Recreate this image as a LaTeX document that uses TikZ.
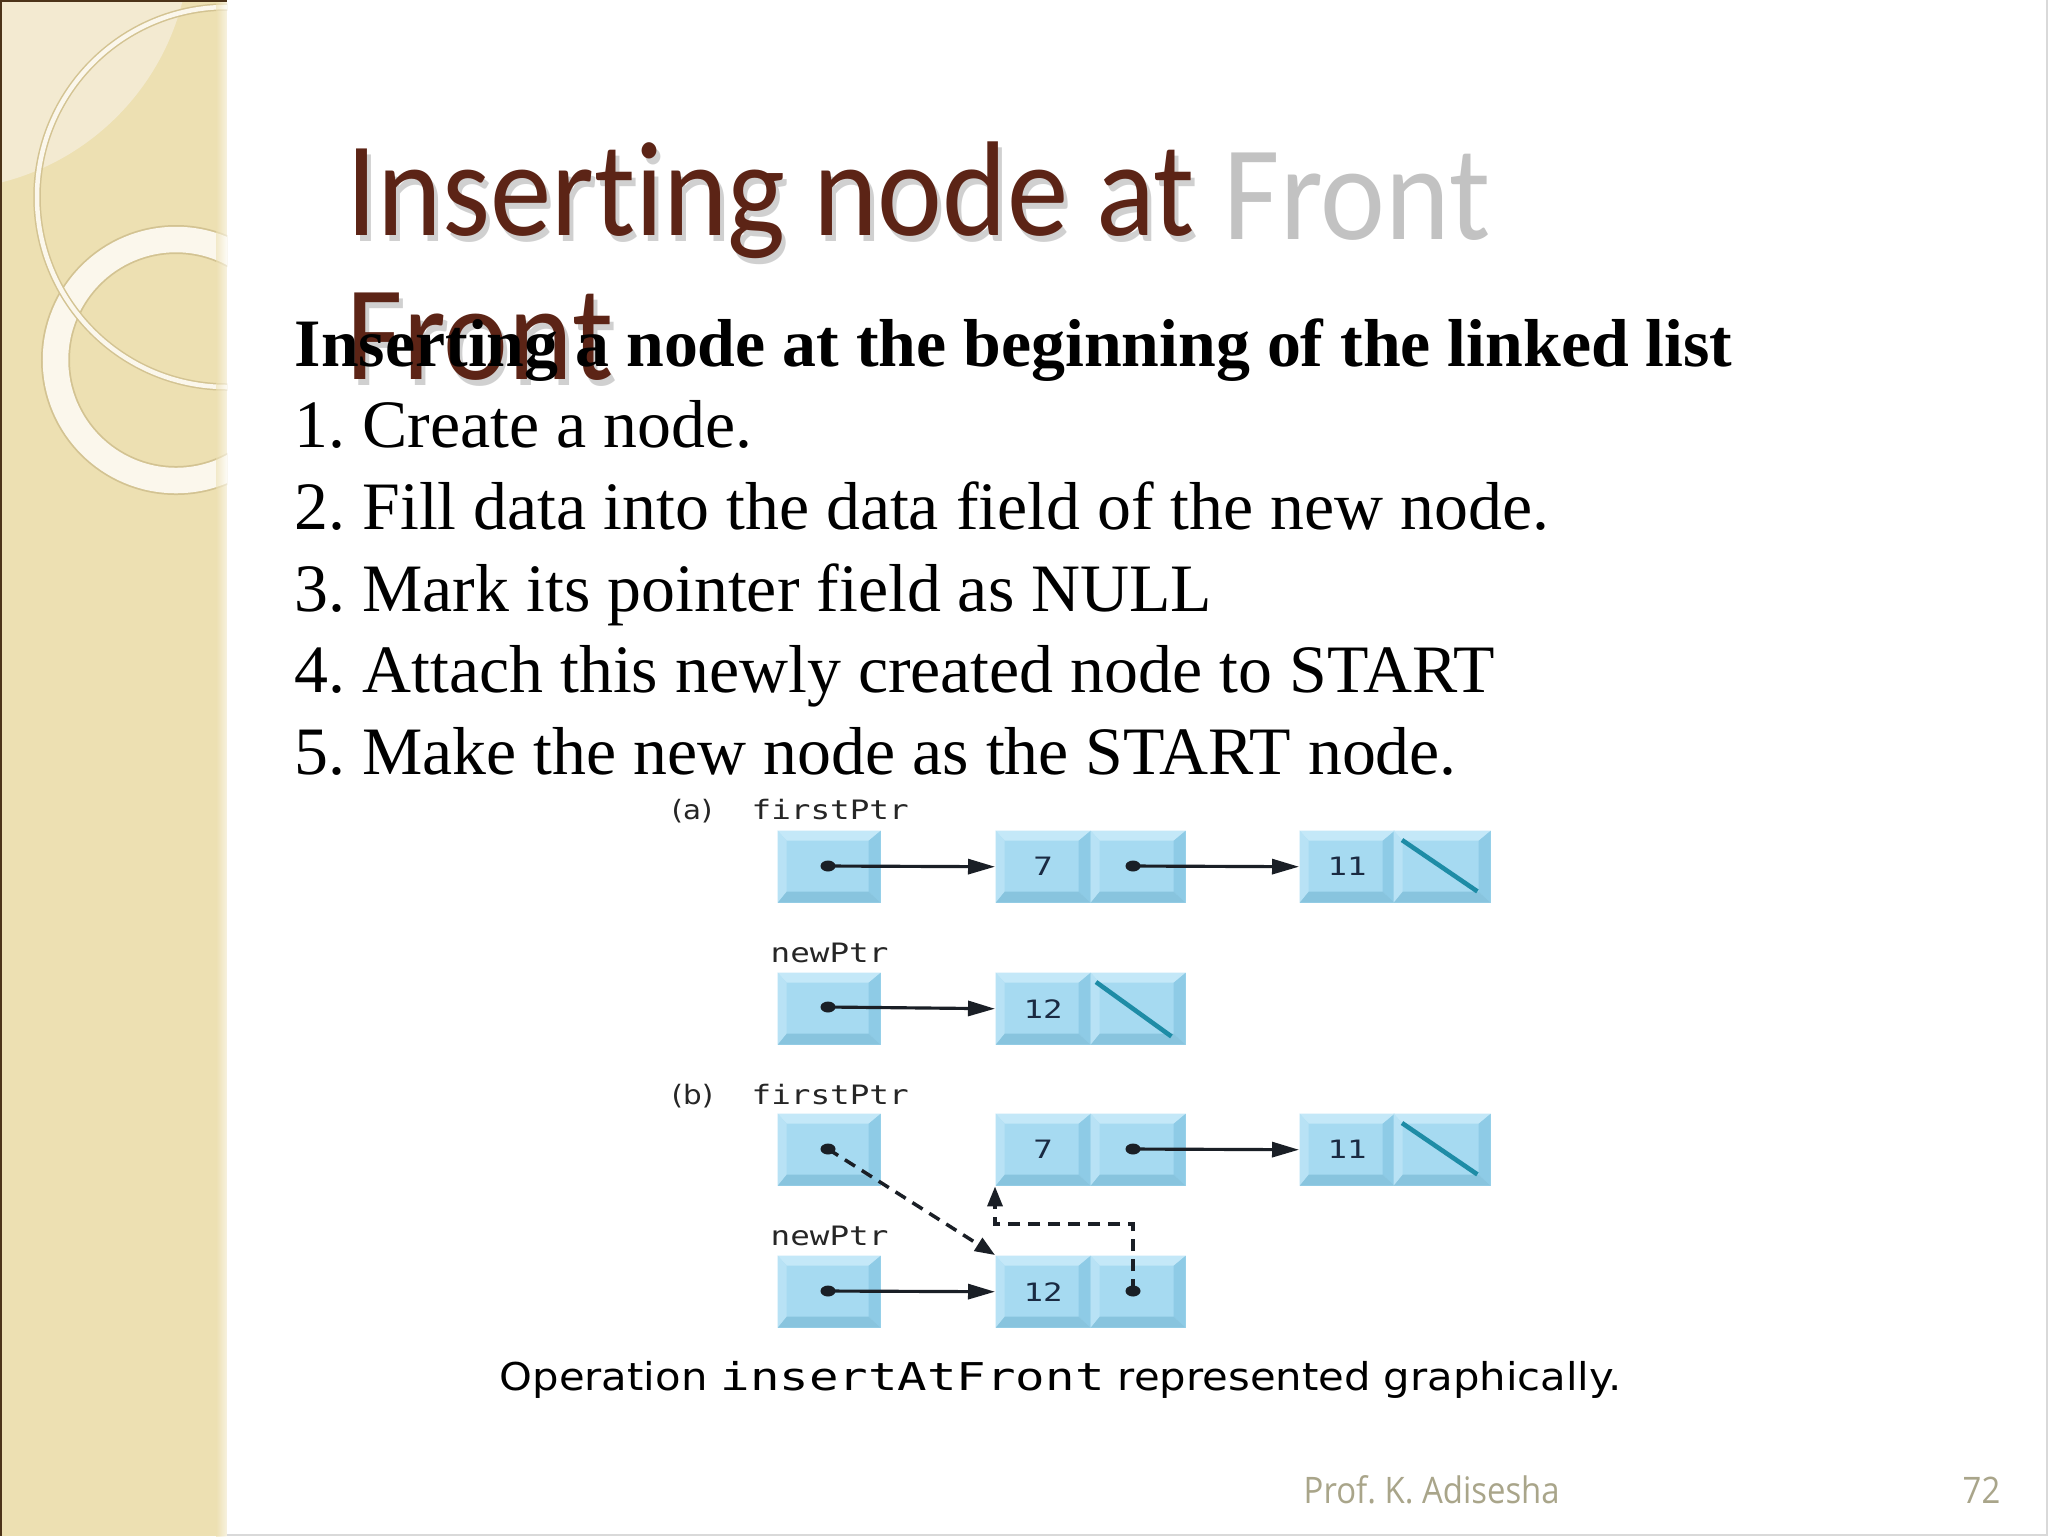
\documentclass[tikz,border=0pt]{standalone}
\usepackage{fontspec}
\usepackage{graphicx}
\setmainfont{Liberation Serif}
\newfontfamily\titlefont[Ligatures=NoCommon]{Carlito}
\newfontfamily\footfont{Open Sans}
\newfontfamily\capsans{DejaVu Sans}
\newfontfamily\capmono{DejaVu Sans Mono}
\usetikzlibrary{arrows.meta,shapes.geometric}
\frenchspacing

\definecolor{side}{HTML}{EDE0B2}
\definecolor{sidelight}{HTML}{F3EAD1}
\definecolor{ringedge}{HTML}{D3C392}
\definecolor{ringfill}{HTML}{FBF7EC}
\definecolor{titlebrown}{HTML}{5C2416}
\definecolor{footc}{HTML}{A9A58A}
\definecolor{cface}{HTML}{A6DAF1}
\definecolor{cbtop}{HTML}{C4E8F8}
\definecolor{cbleft}{HTML}{B8E2F5}
\definecolor{cbright}{HTML}{8ECBE6}
\definecolor{cbbot}{HTML}{88C4DE}
\definecolor{numc}{HTML}{1A2A42}
\definecolor{nullc}{HTML}{1E8CA6}
\definecolor{arrc}{HTML}{1A1F26}

\tikzset{
  body/.style={anchor=base west, inner sep=0, font=\fontsize{19.3}{23}\selectfont},
  lbl/.style={anchor=base west, inner sep=0, text=black!85},
  cell/.style={rectangle, inner sep=0, anchor=north west, minimum height=7.2mm,
    fill=cface, text=numc,
    path picture={
      \fill[cbtop] (path picture bounding box.north west) -- (path picture bounding box.north east)
        -- ([shift={(-1.2mm,-1mm)}]path picture bounding box.north east)
        -- ([shift={(0.9mm,-1mm)}]path picture bounding box.north west) -- cycle;
      \fill[cbleft] (path picture bounding box.north west) -- (path picture bounding box.south west)
        -- ([shift={(0.9mm,1.1mm)}]path picture bounding box.south west)
        -- ([shift={(0.9mm,-1mm)}]path picture bounding box.north west) -- cycle;
      \fill[cbright] (path picture bounding box.north east) -- (path picture bounding box.south east)
        -- ([shift={(-1.2mm,1.1mm)}]path picture bounding box.south east)
        -- ([shift={(-1.2mm,-1mm)}]path picture bounding box.north east) -- cycle;
      \fill[cbbot] (path picture bounding box.south west) -- (path picture bounding box.south east)
        -- ([shift={(-1.2mm,1.1mm)}]path picture bounding box.south east)
        -- ([shift={(0.9mm,1.1mm)}]path picture bounding box.south west) -- cycle;
    }},
  ptrcell/.style={cell, minimum width=10.3mm},
  datcell/.style={cell, minimum width=9.5mm},
  dot/.style={ellipse, fill=arrc, inner sep=0, minimum width=1.5mm, minimum height=1.1mm},
  arr/.style={draw=arrc, line width=0.9pt, -{Triangle[length=2.7mm,width=1.5mm]}},
  darr/.style={draw=arrc, line width=1pt, dash pattern=on 1.2mm off 0.8mm, -{Triangle[length=2mm,width=1.5mm]}},
  nullline/.style={draw=nullc, line width=1.3pt},
}

\newcommand{\num}[1]{\capmono\fontsize{7.2}{8}\selectfont\scalebox{1.28}[1]{#1}}
\newcommand{\lab}[1]{\capmono\fontsize{7.6}{9}\selectfont\scalebox{1.22}[1]{#1}}
\newcommand{\labs}[1]{\capsans\fontsize{7.6}{9}\selectfont\scalebox{1.1}[1]{#1}}

\begin{document}
\begin{tikzpicture}[x={(0.1mm,0)}, y={(0,-0.1mm)}]
\useasboundingbox (0,0) rectangle (2048,1536);
\fill[white] (0,0) rectangle (2048,1536);

% ---------- sidebar ----------
\begin{scope}
  \clip (0,0) rectangle (227,1536);
  \fill[side] (0,0) rectangle (227,1536);
  \fill[sidelight] (-60,-60) circle[radius=250];
  \draw[ringedge, line width=2.9mm] (176,360) circle[radius=120.5];
  \draw[ringfill, line width=2.55mm] (176,360) circle[radius=120.5];
  \draw[ringedge, line width=0.75mm] (227,197) circle[radius=190];
  \draw[ringfill, line width=0.45mm] (227,197) circle[radius=190];
  \shade[left color=side, right color=white, opacity=0.6] (216,0) rectangle (227,1536);
  \draw[black!60!brown, line width=0.25mm] (1,0) -- (1,1536);
  \draw[black!60!brown, line width=0.25mm] (0,1) -- (227,1);
\end{scope}
\draw[black!15, line width=0.2mm] (2047,0) -- (2047,1535) -- (227,1535);

% ---------- title ----------
\node[anchor=base west, inner sep=0, text=black!30, opacity=0.6] (tsh1) at (350,241)
  {\titlefont\fontsize{38.4}{40}\selectfont\scalebox{0.91}[1]{Inserting node at}};
\node[anchor=base west, inner sep=0, text=titlebrown] (title1) at (346,235)
  {\titlefont\fontsize{38.4}{40}\selectfont\scalebox{0.91}[1]{Inserting node at}};
\node[anchor=base west, inner sep=0, text=black!24] (tghost) at (1223,239)
  {\titlefont\fontsize{38.4}{40}\selectfont\scalebox{0.91}[1]{Front}};
\node[anchor=base west, inner sep=0, text=black!30, opacity=0.6] (tsh2) at (350,385)
  {\titlefont\fontsize{38.4}{40}\selectfont\scalebox{0.91}[1]{Front}};
\node[anchor=base west, inner sep=0, text=titlebrown] (title2) at (346,379)
  {\titlefont\fontsize{38.4}{40}\selectfont\scalebox{0.91}[1]{Front}};

% ---------- body text ----------
\node[body, font=\fontsize{19.3}{23}\selectfont\bfseries] (head) at (294,366)
  {Inserting a node at the beginning of the linked list};
\node[body] (s1) at (294,447) {1. Create a node.};
\node[body] (s2) at (294,529) {2. Fill data into the data field of the new node.};
\node[body] (s3) at (294,611) {3. Mark its pointer field as NULL};
\node[body] (s4) at (294,692) {4. Attach this newly created node to START};
\node[body] (s5) at (294,774) {5. Make the new node as the START node.};

% ---------- diagram (a) ----------
\node[lbl] (la) at (671,819) {\labs{(a)}};
\node[lbl] (lfa) at (751,819) {\lab{firstPtr}};
\node[ptrcell] (pfa) at (777,830) {};
\node[datcell] (v7a) at (995,830) {\num{7}};
\node[datcell] (n7a) at (1090,830) {};
\node[datcell] (v11a) at (1299,830) {\num{11}};
\node[datcell, minimum width=9.7mm] (n11a) at (1393,830) {};
\node[dot] (dfa) at (828,866) {};
\node[dot] (d7a) at (1133,866) {};
\draw[arr] (dfa.center) -- (v7a.west);
\draw[arr] (d7a.center) -- (v11a.west);
\draw[nullline] ([shift={(0.9mm,-1mm)}]n11a.north west) -- ([shift={(-1.4mm,1.2mm)}]n11a.south east);

\node[lbl] (lna) at (770,962) {\lab{newPtr}};
\node[ptrcell] (pna) at (777,972) {};
\node[datcell] (v12a) at (995,972) {\num{12}};
\node[datcell] (n12a) at (1090,972) {};
\node[dot] (dna) at (828,1007) {};
\draw[arr] (dna.center) -- (v12a.west);
\draw[nullline] ([shift={(0.6mm,-1mm)}]n12a.north west) -- ([shift={(-1.5mm,0.9mm)}]n12a.south east);

% ---------- diagram (b) ----------
\node[lbl] (lb) at (671,1104) {\labs{(b)}};
\node[lbl] (lfb) at (751,1104) {\lab{firstPtr}};
\node[ptrcell] (pfb) at (777,1113) {};
\node[datcell] (v7b) at (995,1113) {\num{7}};
\node[datcell] (n7b) at (1090,1113) {};
\node[datcell] (v11b) at (1299,1113) {\num{11}};
\node[datcell, minimum width=9.7mm] (n11b) at (1393,1113) {};
\node[dot] (dfb) at (828,1149) {};
\node[dot] (d7b) at (1133,1149) {};
\draw[arr] (d7b.center) -- (v11b.west);
\draw[nullline] ([shift={(0.9mm,-1mm)}]n11b.north west) -- ([shift={(-1.4mm,1.2mm)}]n11b.south east);

\node[lbl] (lnb) at (770,1245) {\lab{newPtr}};
\node[ptrcell] (pnb) at (777,1255) {};
\node[datcell] (v12b) at (995,1255) {\num{12}};
\node[datcell] (n12b) at (1090,1255) {};
\node[dot] (dnb) at (828,1291) {};
\node[dot] (d12b) at (1133,1291) {};
\draw[arr] (dnb.center) -- (v12b.west);
\draw[darr] (dfb.center) -- (v12b.north west);
\draw[darr] (d12b.center) -- ++(0,-67) -| (v7b.south west);

% ---------- caption ----------
\node[anchor=base west, inner sep=0] (cap) at (499,1390)
  {\capsans\fontsize{10.9}{13}\selectfont\scalebox{1.09}[1]{Operation }\capmono\scalebox{1.28}[1]{insertAtFront}\capsans\scalebox{1.09}[1]{ represented graphically.}};

% ---------- footer ----------
\node[anchor=base west, inner sep=0, text=footc] (auth) at (1303,1503)
  {\footfont\fontsize{10.4}{12}\selectfont\scalebox{0.9}[1]{Prof. K. Adisesha}};
\node[anchor=base west, inner sep=0, text=footc] (page) at (1962,1503)
  {\footfont\fontsize{10.4}{12}\selectfont\scalebox{0.9}[1]{72}};
\end{tikzpicture}
\end{document}
